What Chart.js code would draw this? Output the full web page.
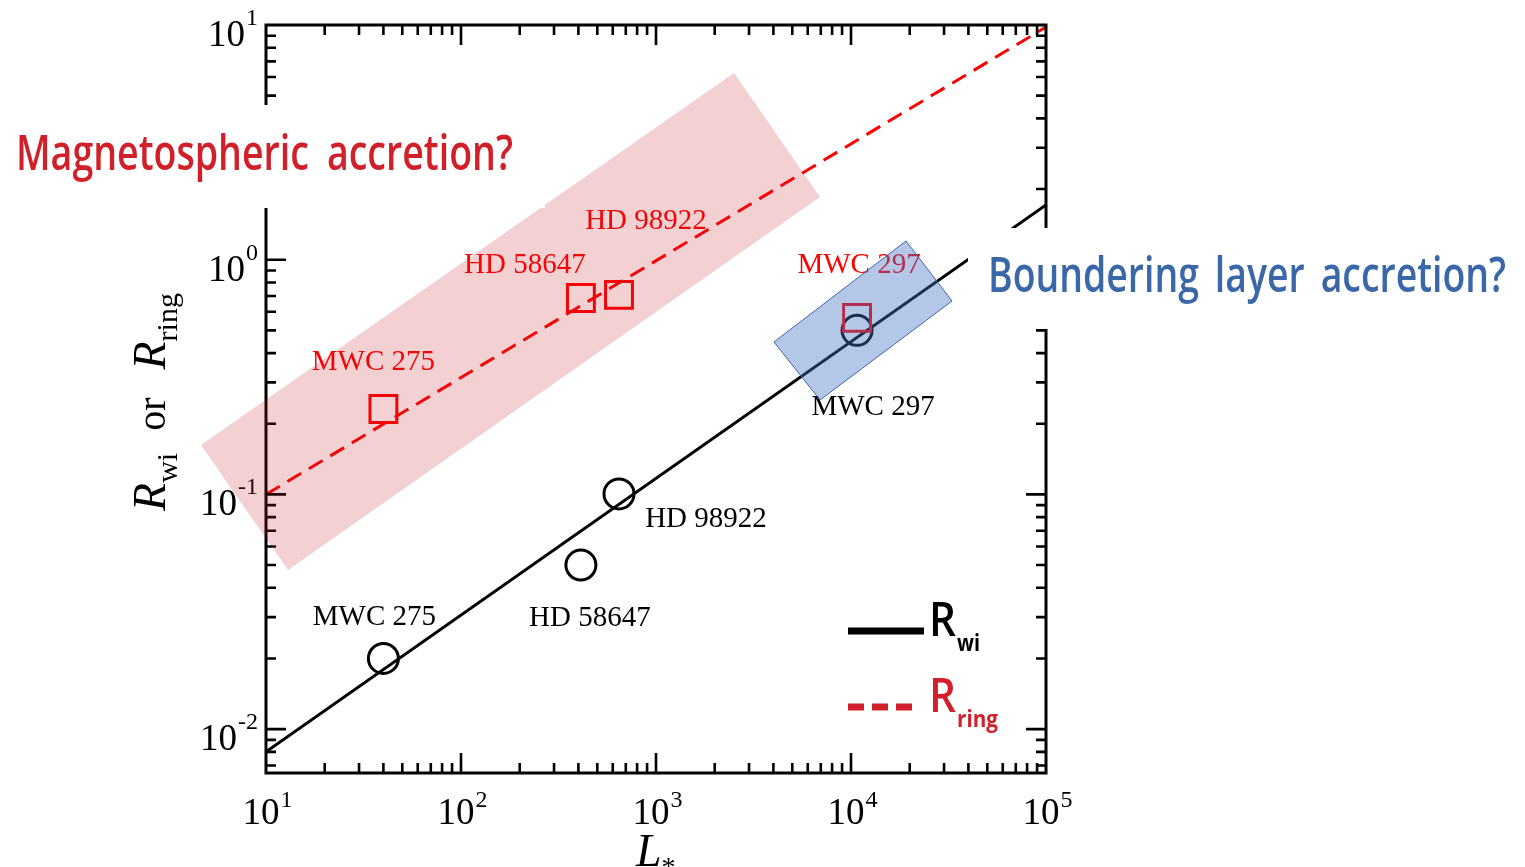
<!DOCTYPE html>
<html>
<head>
<meta charset="utf-8">
<title>R_wi and R_ring vs L*</title>
<script src="https://cdn.jsdelivr.net/npm/chart.js@4.4.1/dist/chart.umd.min.js"></script>
<style>
  html, body { margin: 0; padding: 0; background: #fff; }
  #wrap { width: 1525px; height: 867px; position: relative; }
</style>
</head>
<body>
<div id="wrap"><canvas id="chart"></canvas></div>
<script>
// stars, luminosity L* and the two radii
const stars = ["MWC 275", "HD 58647", "HD 98922", "MWC 297"];
const luminosity = [40, 412, 646, 10740];
const rWi = [0.020, 0.050, 0.1005, 0.50];
const rRing = [0.231, 0.687, 0.708, 0.565];

// fit lines, values at both ends of the L* axis
const fitL = [10, 100000];
const rWiFit = [0.0080, 1.71];
const rRingFit = [0.100, 9.8];

// axes
const xRange = [10, 100000];
const yRange = [0.0065, 10];
const xDecades = [1, 2, 3, 4, 5];
const yDecades = [-2, -1, 0, 1];

// shaded zones, corners in data units (L*, R)
const magnetoZone = [[4.64, 0.1624], [12.97, 0.0476], [6934, 1.85], [2512, 6.245]];
const boundaryZone = [[4028, 0.446], [19150, 1.2015], [32960, 0.6668], [6934, 0.2525]];

// label offsets from each point: [dx to text centre, dy to baseline]
const ringLabelOffsets = [[-10, -39], [-56, -25], [27, -66], [2, -45]];
const wiLabelOffsets = [[-9, -33], [9, 61], [87, 33], [16, 85]];

const SERIF = "'Liberation Serif', 'Times New Roman', serif";
const SANS = "'Open Sans', 'Noto Sans', sans-serif";
const RED_TXT = "#d2202a";
const BLUE_TXT = "#3a67a8";

function pairs(xs, ys) {
  return xs.map(function (x, i) { return { x: x, y: ys[i] }; });
}

// text squeezed horizontally to a given width (condensed look)
function fitText(c, text, font, color, left, baseline, width) {
  c.font = font;
  const w = c.measureText(text).width;
  c.save();
  c.translate(left, baseline);
  c.scale(width / w, 1);
  c.fillStyle = color;
  c.textAlign = "left";
  c.textBaseline = "alphabetic";
  c.fillText(text, 0, 0);
  c.restore();
}

// phrase squeezed to a total width, with fixed wide word gaps
function phrase(c, text, font, color, left, baseline, width, gap) {
  const words = text.split(" ");
  c.font = font;
  let sum = 0;
  words.forEach(function (w) { sum += c.measureText(w).width; });
  const s = (width - gap * (words.length - 1)) / sum;
  c.fillStyle = color;
  c.textAlign = "left";
  c.textBaseline = "alphabetic";
  let x = left;
  words.forEach(function (w) {
    c.save();
    c.translate(x, baseline);
    c.scale(s, 1);
    c.fillText(w, 0, 0);
    c.restore();
    x += c.measureText(w).width * s + gap;
  });
}

// sequence of text runs: {t, font, dy, gap}
function drawRuns(c, runs, x, y, color) {
  let cx = x;
  c.fillStyle = color;
  c.textAlign = "left";
  c.textBaseline = "alphabetic";
  runs.forEach(function (r) {
    c.font = r.font;
    cx += r.gap || 0;
    c.fillText(r.t, cx, y + (r.dy || 0));
    cx += c.measureText(r.t).width;
  });
}

function runsWidth(c, runs) {
  let w = 0;
  runs.forEach(function (r) {
    c.font = r.font;
    w += (r.gap || 0) + c.measureText(r.t).width;
  });
  return w;
}

function zonePath(c, xs, ys, corners) {
  c.beginPath();
  corners.forEach(function (p, i) {
    const px = xs.getPixelForValue(p[0]);
    const py = ys.getPixelForValue(p[1]);
    if (i === 0) c.moveTo(px, py); else c.lineTo(px, py);
  });
  c.closePath();
}

const overlayPlugin = {
  id: "overlay",
  afterDraw: function (chart) {
    const c = chart.ctx;
    const xs = chart.scales.x;
    const ys = chart.scales.y;
    const a = chart.chartArea;
    c.save();

    // star names
    c.font = "29px " + SERIF;
    c.textAlign = "center";
    c.textBaseline = "alphabetic";
    stars.forEach(function (name, i) {
      const px = xs.getPixelForValue(luminosity[i]);
      c.fillStyle = "#ff0000";
      c.fillText(name, px + ringLabelOffsets[i][0], ys.getPixelForValue(rRing[i]) + ringLabelOffsets[i][1]);
      c.fillStyle = "#000";
      c.fillText(name, px + wiLabelOffsets[i][0], ys.getPixelForValue(rWi[i]) + wiLabelOffsets[i][1]);
    });

    // frame and inward ticks
    c.strokeStyle = "#000";
    c.lineWidth = 3;
    c.lineCap = "butt";
    c.strokeRect(a.left, a.top, a.right - a.left, a.bottom - a.top);
    c.lineWidth = 2.6;
    c.beginPath();
    xDecades.forEach(function (d) {
      for (let m = 1; m <= 9; m++) {
        const v = m * Math.pow(10, d);
        if (v <= xRange[0] || v >= xRange[1]) continue;
        const px = xs.getPixelForValue(v);
        const len = m === 1 ? 20 : 10;
        c.moveTo(px, a.bottom); c.lineTo(px, a.bottom - len);
        c.moveTo(px, a.top); c.lineTo(px, a.top + len);
      }
    });
    [-3].concat(yDecades).forEach(function (d) {
      for (let m = 1; m <= 9; m++) {
        const v = m * Math.pow(10, d);
        if (v <= yRange[0] || v >= yRange[1]) continue;
        const py = ys.getPixelForValue(v);
        const len = m === 1 ? 20 : 10;
        c.moveTo(a.left, py); c.lineTo(a.left + len, py);
        c.moveTo(a.right, py); c.lineTo(a.right - len, py);
      }
    });
    c.stroke();

    // tick labels 10^n
    const mainFont = "37px " + SERIF;
    const supFont = "24px " + SERIF;
    c.fillStyle = "#000";
    c.textAlign = "left";
    xDecades.forEach(function (d) {
      const px = xs.getPixelForValue(Math.pow(10, d));
      c.font = mainFont;
      const w1 = c.measureText("10").width;
      const left = px - 5 - w1 / 2;
      c.fillText("10", left, a.bottom + 51);
      c.font = supFont;
      c.fillText(String(d), left + w1 + 1, a.bottom + 34);
    });
    yDecades.forEach(function (d) {
      const py = ys.getPixelForValue(Math.pow(10, d));
      c.font = supFont;
      const e = String(d);
      const w2 = c.measureText(e).width;
      const supLeft = a.left - 8 - w2;
      c.fillText(e, supLeft, py);
      c.font = mainFont;
      const w1 = c.measureText("10").width;
      c.fillText("10", supLeft - 1 - w1, py + 21);
    });

    // axis titles
    const yTitle = [
      { t: "R", font: "italic 46px " + SERIF },
      { t: "wi", font: "30px " + SERIF, dy: 12 },
      { t: "or", font: "40px " + SERIF, gap: 22 },
      { t: "R", font: "italic 46px " + SERIF, gap: 28 },
      { t: "ring", font: "30px " + SERIF, dy: 12 }
    ];
    c.save();
    c.translate(165, 402);
    c.rotate(-Math.PI / 2);
    drawRuns(c, yTitle, -runsWidth(c, yTitle) / 2, 0, "#000");
    c.restore();
    drawRuns(c, [
      { t: "L", font: "italic 46px " + SERIF },
      { t: "*", font: "28px " + SERIF, dy: 10 }
    ], 636, 866, "#000");

    // shaded zones over the plot
    zonePath(c, xs, ys, magnetoZone);
    c.fillStyle = "rgba(196, 20, 30, 0.2)";
    c.fill();
    zonePath(c, xs, ys, boundaryZone);
    c.fillStyle = "rgba(68, 114, 196, 0.4)";
    c.fill();
    c.strokeStyle = "#3a64b0";
    c.lineWidth = 1;
    c.stroke();

    // callout boxes
    c.fillStyle = "#fff";
    c.fillRect(0, 105, 545, 103);
    c.fillRect(968, 228, 557, 101);
    const big = "600 48px " + SANS;
    phrase(c, "Magnetospheric accretion?", big, RED_TXT, 16, 170, 497, 18);
    phrase(c, "Boundering layer accretion?", big, BLUE_TXT, 988, 292, 518, 16);

    // legend
    c.lineWidth = 7;
    c.strokeStyle = "#000";
    c.beginPath(); c.moveTo(848, 631); c.lineTo(924, 631); c.stroke();
    c.strokeStyle = RED_TXT;
    c.setLineDash([16, 8]);
    c.beginPath(); c.moveTo(848, 707); c.lineTo(915, 707); c.stroke();
    c.setLineDash([]);
    fitText(c, "R", "600 47px " + SANS, "#000", 929, 636, 27);
    fitText(c, "wi", "700 24px " + SANS, "#000", 957, 651, 23);
    fitText(c, "R", "600 47px " + SANS, RED_TXT, 929, 712, 27);
    fitText(c, "ring", "700 24px " + SANS, RED_TXT, 957, 727, 41);

    c.restore();
  }
};

new Chart(document.getElementById("chart"), {
  type: "scatter",
  data: {
    datasets: [
      {
        label: "R_ring",
        data: pairs(luminosity, rRing),
        pointStyle: "rect",
        pointRadius: 19,
        borderColor: "#ff0000",
        backgroundColor: "transparent",
        borderWidth: 3,
        showLine: false,
        order: 0
      },
      {
        label: "R_wi",
        data: pairs(luminosity, rWi),
        pointStyle: "circle",
        pointRadius: 15,
        borderColor: "#000",
        backgroundColor: "transparent",
        borderWidth: 3,
        showLine: false,
        order: 1
      },
      {
        label: "R_ring fit",
        data: pairs(fitL, rRingFit),
        showLine: true,
        borderColor: "#ff0000",
        borderWidth: 3,
        borderDash: [16, 9],
        pointRadius: 0,
        order: 2
      },
      {
        label: "R_wi fit",
        data: pairs(fitL, rWiFit),
        showLine: true,
        borderColor: "#000",
        borderWidth: 3,
        pointRadius: 0,
        order: 3
      }
    ]
  },
  options: {
    responsive: true,
    maintainAspectRatio: false,
    animation: false,
    events: [],
    layout: { padding: { left: 266, right: 479, top: 25, bottom: 94 } },
    plugins: { legend: { display: false }, tooltip: { enabled: false } },
    scales: {
      x: { type: "logarithmic", min: xRange[0], max: xRange[1], display: false },
      y: { type: "logarithmic", min: yRange[0], max: yRange[1], display: false }
    }
  },
  plugins: [overlayPlugin]
});
</script>
</body>
</html>
